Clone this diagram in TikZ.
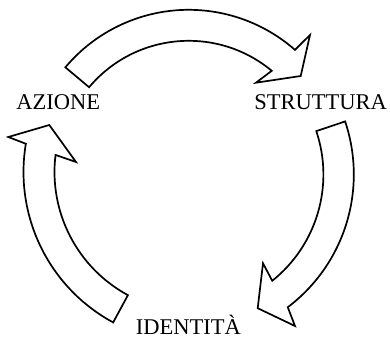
\documentclass[tikz,border=0pt]{standalone}
\usepackage{fontspec}
\setmainfont{Liberation Serif}
\usetikzlibrary{calc}
\tikzset{
  blockarrow/.style={draw=black, fill=white, line width=1.7pt, line join=miter},
  lbl/.style={inner sep=0pt, anchor=base, font=\fontsize{22.5}{26}\selectfont}
}
\begin{document}
\begin{tikzpicture}[x=1pt,y=1pt]
\useasboundingbox (0,0) rectangle (390,-338);
% centres of the three arcs
\coordinate (c1) at (188.7,-170.8);
\coordinate (c2) at (187.4,-174.5);
\coordinate (c3) at (194.5,-172);
% top arrow
\coordinate (t1b) at (310,-35);
\coordinate (t1t) at (300.7,-76);
\coordinate (t1i) at (256,-82.7);
\draw[blockarrow] ($(c1)+(140:161)$) arc[start angle=140, end angle=48.7, radius=161]
  -- (t1b) -- (t1t) -- (t1i) -- ($(c1)+(50.3:130)$)
  arc[start angle=50.3, end angle=140, radius=130] -- cycle;
% right arrow
\coordinate (t2b) at (295,-326);
\coordinate (t2t) at (257.7,-308.2);
\coordinate (t2i) at (263,-263.3);
\draw[blockarrow] ($(c2)+(18.6:166.4)$) arc[start angle=18.6, end angle=-52.9, radius=166.4]
  -- (t2b) -- (t2t) -- (t2i) -- ($(c2)+(-51.4:136)$)
  arc[start angle=-51.4, end angle=18.6, radius=136] -- cycle;
% left arrow
\coordinate (t3b) at (8.3,-137);
\coordinate (t3t) at (49.3,-125);
\coordinate (t3i) at (76,-162);
\draw[blockarrow] ($(c3)+(241.6:171)$) arc[start angle=241.6, end angle=170.5, radius=171]
  -- (t3b) -- (t3t) -- (t3i) -- ($(c3)+(173:140)$)
  arc[start angle=173, end angle=241.6, radius=140] -- cycle;
% labels
\node[lbl] (azione) at (58.3,-109.3) {AZIONE};
\node[lbl] (struttura) at (320.5,-109.5) {STRUTTURA};
\node[lbl] (identita) at (188.3,-334.5) {IDENTITÀ};
\end{tikzpicture}
\end{document}
